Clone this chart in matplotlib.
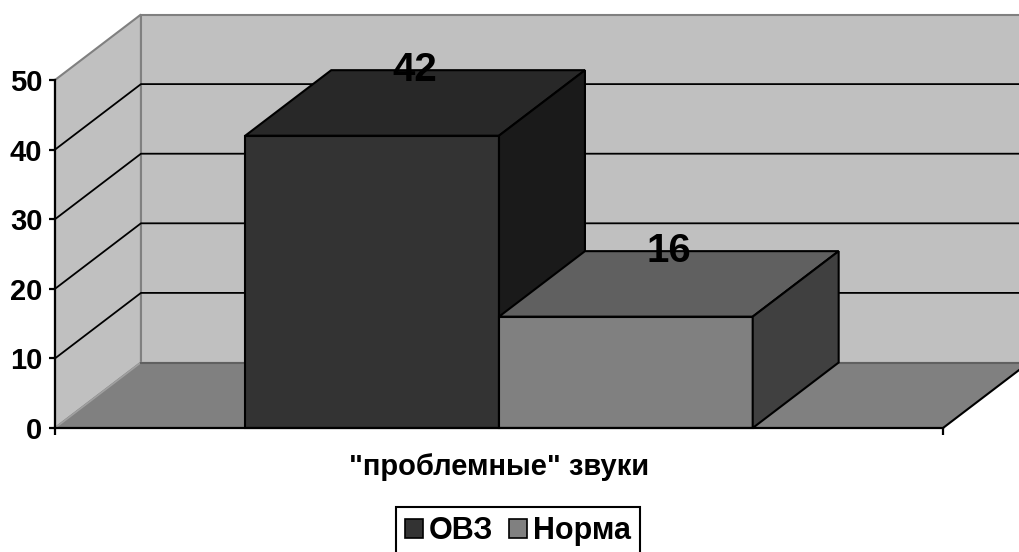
import numpy as np
import matplotlib.pyplot as plt
from matplotlib.patches import Polygon, Patch

plt.rcParams['font.family'] = ['Liberation Sans', 'DejaVu Sans']
plt.rcParams['font.weight'] = 'bold'

# данные
category = '"проблемные" звуки'
series = ['ОВЗ', 'Норма']
values = [42, 16]
yticks = [0, 10, 20, 30, 40, 50]

# цвета граней: фронт, верх, бок
front_c = ['#333333', '#808080']
top_c = ['#282828', '#606060']
side_c = ['#1a1a1a', '#404040']
wall_c = '#c0c0c0'
floor_c = '#808080'
edge_c = '#808080'

ymax = 50
dx = 0.0968   # сдвиг по глубине (в долях категории)
dy = 9.41     # сдвиг по глубине (в единицах значений)
gap = 1.5     # ширина зазора относительно столбца
w = 1.0 / (len(values) + gap)

fig = plt.figure(figsize=(10.19, 5.52), dpi=100)
ax = fig.add_axes([0, 0, 1, 1])
ax.set_xlim(-55 / 888, 964 / 888)
ax.set_ylim(-124 / 6.96, 428 / 6.96)
ax.set_facecolor('white')

# стенки и пол
side = Polygon([(0, 0), (0, ymax), (dx, ymax + dy), (dx, dy)], closed=True,
               fc=wall_c, ec=edge_c, lw=1.5, zorder=1)
back = Polygon([(dx, dy), (dx, ymax + dy), (1 + dx, ymax + dy), (1 + dx, dy)], closed=True,
               fc=wall_c, ec=edge_c, lw=1.5, zorder=1)
floor = Polygon([(0, 0), (1, 0), (1 + dx, dy), (dx, dy)], closed=True,
                fc=floor_c, ec='none', zorder=2)
ax.add_patch(side)
ax.add_patch(back)
ax.add_patch(floor)
ax.plot([0, dx], [0, dy], color='#a0a0a0', lw=1.2, zorder=2.5)
ax.plot([dx, 1 + dx], [dy, dy], color='#606060', lw=1.5, zorder=2.5)
ax.plot([1, 1 + dx], [0, dy], color='black', lw=1.5, zorder=2.5)

# сетка на стенках
for v in yticks[1:-1]:
    ax.plot([0, dx, 1 + dx], [v, v + dy, v + dy], color='black', lw=1.3, zorder=2)

# столбцы
for i, (val, name) in enumerate(zip(values, series)):
    x0 = gap / 2 * w + i * w
    x1 = x0 + w
    faces = [
        ([(x0, 0), (x1, 0), (x1, val), (x0, val)], front_c[i]),
        ([(x0, val), (x1, val), (x1 + dx, val + dy), (x0 + dx, val + dy)], top_c[i]),
        ([(x1, 0), (x1 + dx, dy), (x1 + dx, val + dy), (x1, val)], side_c[i]),
    ]
    for pts, c in faces:
        ax.add_patch(Polygon(pts, closed=True, fc=c, ec='black', lw=1.5,
                             joinstyle='miter', zorder=3 + i))
    ax.text((x0 + x1) / 2 + dx / 2, val + dy, str(val), ha='center', va='center',
            fontsize=29, fontweight='bold', zorder=10)

# оси
for s in ['top', 'right']:
    ax.spines[s].set_visible(False)
ax.spines['left'].set_position(('data', 0))
ax.spines['bottom'].set_position(('data', 0))
ax.spines['left'].set_bounds(0, ymax)
ax.spines['bottom'].set_bounds(0, 1)
for s in ['left', 'bottom']:
    ax.spines[s].set_linewidth(1.6)
    ax.spines[s].set_zorder(8)
ax.set_yticks(yticks)
ax.set_xticks([0, 1])
ax.set_xticklabels(['', ''])
ax.tick_params(axis='y', direction='out', length=4, width=1.6, pad=5, labelsize=21)
ax.tick_params(axis='x', direction='out', length=5, width=1.6)
for lab in ax.get_yticklabels():
    lab.set_fontweight('bold')

ax.text(0.5, -5.6, category, ha='center', va='center', fontsize=21, fontweight='bold')

handles = [Patch(fc=front_c[i], ec='black', lw=1.2) for i in range(len(series))]
leg = fig.legend(handles, series, ncol=2, loc='upper center',
                 bbox_to_anchor=(518 / 1019, 1 - 507 / 552), fontsize=22,
                 handlelength=0.6, handleheight=0.6, handletextpad=0.2,
                 columnspacing=0.5, borderpad=0.3, borderaxespad=0,
                 fancybox=False, frameon=True, edgecolor='black', framealpha=1)
leg.get_frame().set_linewidth(1.5)
for t in leg.get_texts():
    t.set_fontweight('bold')

fig.savefig('out.png', dpi=100)
